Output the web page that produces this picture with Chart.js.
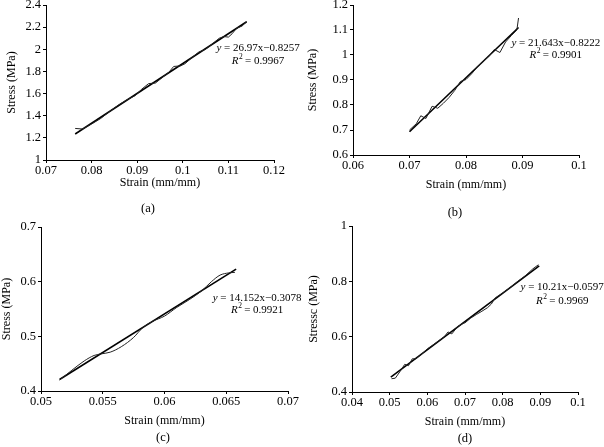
<!DOCTYPE html>
<html>
<head>
<meta charset="utf-8">
<script src="https://cdn.jsdelivr.net/npm/chart.js@4.4.1/dist/chart.umd.min.js"></script>
<style>
  html, body { margin: 0; padding: 0; background: #fff; }
  #wrap { position: relative; width: 604px; height: 447px; overflow: hidden; }
  #wrap canvas { position: absolute; left: 0; top: 0; }
  .lbl { position: absolute; font: 12.5px "Liberation Serif", serif; color: #000;
         transform: translate(-50%, -50%); white-space: nowrap; }
</style>
</head>
<body>
<div id="wrap">
  <canvas id="ca" width="604" height="447"></canvas>
  <canvas id="cb" width="604" height="447"></canvas>
  <canvas id="cc" width="604" height="447"></canvas>
  <canvas id="cd" width="604" height="447"></canvas>
  <div class="lbl" style="left:148px;top:208px">(a)</div>
  <div class="lbl" style="left:455px;top:212px">(b)</div>
  <div class="lbl" style="left:163px;top:437px">(c)</div>
  <div class="lbl" style="left:465px;top:438px">(d)</div>
</div>
<script>
// ---- panel (a)
var aXTicks = [0.07, 0.08, 0.09, 0.1, 0.11, 0.12];
var aYTicks = [1, 1.2, 1.4, 1.6, 1.8, 2, 2.2, 2.4];
var aStrain = [0.0764, 0.0780, 0.0800, 0.0820, 0.0840, 0.0860, 0.0880, 0.0895, 0.0910, 0.0925,
               0.0940, 0.0955, 0.0970, 0.0980, 0.0995, 0.1005, 0.1020, 0.1035, 0.1050, 0.1065,
               0.1080, 0.1090, 0.1100, 0.1108, 0.1118, 0.1130, 0.1140];
var aStress = [1.285, 1.280, 1.325, 1.375, 1.440, 1.500, 1.550, 1.580, 1.640, 1.690,
               1.695, 1.745, 1.795, 1.845, 1.850, 1.870, 1.925, 1.975, 2.000, 2.050,
               2.100, 2.115, 2.110, 2.140, 2.190, 2.210, 2.250];
var aFitX = [0.0764, 0.1140];
var aFitY = [1.235, 2.249];

// ---- panel (b)
var bXTicks = [0.06, 0.07, 0.08, 0.09, 0.1];
var bYTicks = [0.6, 0.7, 0.8, 0.9, 1, 1.1, 1.2];
var bStrain = [0.0700, 0.0712, 0.0720, 0.0729, 0.0740, 0.0750, 0.0760, 0.0770, 0.0780, 0.0790,
               0.0800, 0.0810, 0.0820, 0.0830, 0.0840, 0.0850, 0.0860, 0.0870, 0.0880, 0.0890, 0.0893];
var bStress = [0.700, 0.725, 0.757, 0.746, 0.795, 0.787, 0.807, 0.830, 0.858, 0.894,
               0.902, 0.925, 0.952, 0.975, 0.993, 1.022, 1.010, 1.052, 1.077, 1.100, 1.148];
var bFitX = [0.0700, 0.0893];
var bFitY = [0.693, 1.110];

// ---- panel (c)
var cXTicks = [0.05, 0.055, 0.06, 0.065, 0.07];
var cYTicks = [0.4, 0.5, 0.6, 0.7];
var cStrain = [0.0515, 0.0525, 0.0535, 0.0543, 0.0549, 0.0556, 0.0565, 0.0575, 0.0582, 0.0590,
               0.0600, 0.0610, 0.0620, 0.0630, 0.0638, 0.0645, 0.0652, 0.0657];
var cStress = [0.420, 0.438, 0.455, 0.465, 0.468, 0.471, 0.481, 0.498, 0.515, 0.527,
               0.537, 0.553, 0.567, 0.583, 0.600, 0.612, 0.616, 0.617];
var cFitX = [0.0515, 0.0658];
var cFitY = [0.421, 0.623];

// ---- panel (d)
var dXTicks = [0.04, 0.05, 0.06, 0.07, 0.08, 0.09, 0.1];
var dYTicks = [0.4, 0.6, 0.8, 1];
var dStrain = [0.0505, 0.0515, 0.0528, 0.0540, 0.0550, 0.0560, 0.0570, 0.0585, 0.0600, 0.0615,
               0.0630, 0.0645, 0.0655, 0.0665, 0.0680, 0.0695, 0.0700, 0.0715, 0.0730, 0.0745,
               0.0760, 0.0770, 0.0780, 0.0800, 0.0820, 0.0840, 0.0860, 0.0880, 0.0895];
var dStress = [0.448, 0.450, 0.475, 0.500, 0.495, 0.520, 0.520, 0.537, 0.556, 0.570,
               0.585, 0.600, 0.617, 0.610, 0.636, 0.648, 0.650, 0.667, 0.680, 0.692,
               0.705, 0.718, 0.740, 0.758, 0.778, 0.800, 0.820, 0.845, 0.860];
var dFitX = [0.0503, 0.0897];
var dFitY = [0.454, 0.856];

var FONT = '"Liberation Serif", "DejaVu Serif", serif';

function pts(xs, ys) {
  return xs.map(function (x, i) { return { x: x, y: ys[i] }; });
}

// draws the fit equation and R² at a data position
var eqPlugin = {
  id: 'eq',
  afterDraw: function (chart, args, o) {
    if (!o || !o.eq) return;
    var ctx = chart.ctx;
    var cx = chart.scales.x.getPixelForValue(o.x);
    var cy = chart.scales.y.getPixelForValue(o.y);
    var reg = '11px ' + FONT, ita = 'italic 11px ' + FONT, sup = '7.5px ' + FONT;
    ctx.save();
    ctx.fillStyle = '#000';
    ctx.textBaseline = 'middle';
    ctx.textAlign = 'left';
    var t1 = ' = ' + o.eq;
    ctx.font = ita; var wy = ctx.measureText('y').width;
    ctx.font = reg; var w1 = ctx.measureText(t1).width;
    var x0 = cx - (wy + w1) / 2;
    ctx.font = ita; ctx.fillText('y', x0, cy);
    ctx.font = reg; ctx.fillText(t1, x0 + wy, cy);
    var y2 = cy + o.gap;
    var t2 = ' = ' + o.r2;
    ctx.font = ita; var wr = ctx.measureText('R').width;
    ctx.font = sup; var ws = ctx.measureText('2').width;
    ctx.font = reg; var w2 = ctx.measureText(t2).width;
    x0 = cx - (wr + ws + w2) / 2;
    ctx.font = ita; ctx.fillText('R', x0, y2);
    ctx.font = sup; ctx.fillText('2', x0 + wr + 0.5, y2 - 4);
    ctx.font = reg; ctx.fillText(t2, x0 + wr + ws, y2);
    ctx.restore();
  }
};

function axis(ticks, min, max, title, isY, width) {
  return {
    type: 'linear',
    min: min,
    max: max,
    title: { display: true, text: title, color: '#000', padding: 0, font: { family: FONT, size: 12 } },
    grid: { display: true, drawOnChartArea: false, drawTicks: true, tickLength: 3, color: '#000', lineWidth: 1 },
    border: { display: true, color: '#000', width: 1 },
    ticks: {
      color: '#000', padding: isY ? 2 : 0, autoSkip: false, maxRotation: 0,
      font: { family: FONT, size: 12.5 },
      callback: function (v) { return String(v); }
    },
    afterBuildTicks: function (s) { s.ticks = ticks.map(function (v) { return { value: v }; }); },
    afterFit: function (s) {
      if (isY) s.width = width; else s.height = width;
      s.paddingTop = 0; s.paddingBottom = 0; s.paddingLeft = 0; s.paddingRight = 0;
    }
  };
}

function panel(id, box, xs, ys, fx, fy, xt, yt, xr, yr, yTitle, eq, smooth) {
  var half = 7.2;
  var padL = Math.max(0, box.yTitleX - half);
  var titleBottom = box.xTitleY + half;
  new Chart(document.getElementById(id), {
    type: 'scatter',
    data: {
      datasets: [{
        data: pts(xs, ys),
        showLine: true, borderColor: '#222', borderWidth: 1, pointRadius: 0, fill: false,
        tension: smooth ? 0.4 : 0,
        cubicInterpolationMode: smooth ? 'monotone' : 'default'
      }, {
        data: pts(fx, fy),
        showLine: true, borderColor: '#000', borderWidth: 1.6, pointRadius: 0, fill: false
      }]
    },
    options: {
      responsive: false,
      animation: false,
      events: [],
      layout: { padding: { left: padL, top: box.top, right: 604 - box.right, bottom: 447 - titleBottom } },
      plugins: { legend: { display: false }, tooltip: { enabled: false }, eq: eq },
      scales: {
        x: axis(xt, xr[0], xr[1], 'Strain (mm/mm)', false, titleBottom - box.bottom),
        y: axis(yt, yr[0], yr[1], yTitle, true, box.left - padL)
      }
    },
    plugins: [eqPlugin]
  });
}

panel('ca', { left: 46, right: 274, top: 5, bottom: 160, yTitleX: 12, xTitleY: 183 },
  aStrain, aStress, aFitX, aFitY, aXTicks, aYTicks, [0.07, 0.12], [1, 2.4], 'Stress (MPa)',
  { eq: '26.97x\u22120.8257', r2: '0.9967', x: 0.1165, y: 2.01, gap: 13 }, false);

panel('cb', { left: 353, right: 579, top: 5, bottom: 155, yTitleX: 313, xTitleY: 185 },
  bStrain, bStress, bFitX, bFitY, bXTicks, bYTicks, [0.06, 0.1], [0.6, 1.2], 'Stress (MPa)',
  { eq: '21.643x\u22120.8222', r2: '0.9901', x: 0.0959, y: 1.048, gap: 12 }, false);

panel('cc', { left: 41, right: 288, top: 227, bottom: 391, yTitleX: 7, xTitleY: 421 },
  cStrain, cStress, cFitX, cFitY, cXTicks, cYTicks, [0.05, 0.07], [0.4, 0.7], 'Stress (MPa)',
  { eq: '14.152x\u22120.3078', r2: '0.9921', x: 0.0675, y: 0.570, gap: 12 }, true);

panel('cd', { left: 352, right: 578, top: 226, bottom: 392, yTitleX: 314, xTitleY: 422 },
  dStrain, dStress, dFitX, dFitY, dXTicks, dYTicks, [0.04, 0.1], [0.4, 1], 'Stressc (MPa)',
  { eq: '10.21x\u22120.0597', r2: '0.9969', x: 0.0958, y: 0.78, gap: 14 }, false);
</script>
</body>
</html>
